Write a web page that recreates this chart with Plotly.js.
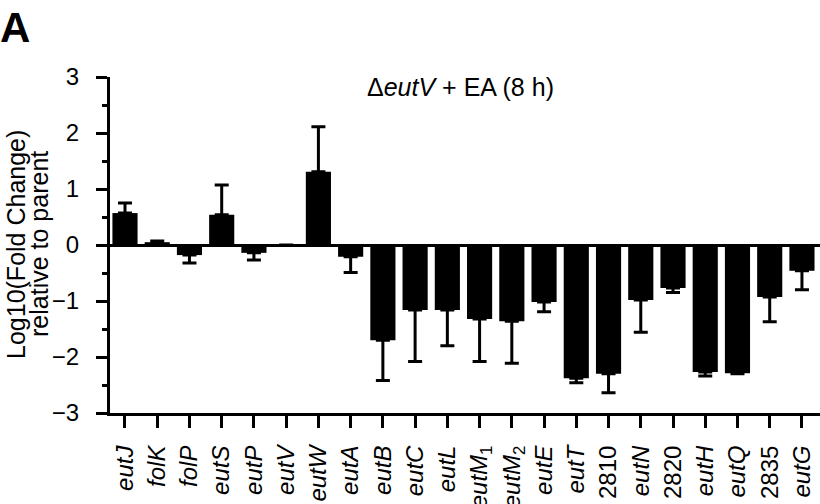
<!DOCTYPE html>
<html>
<head>
<meta charset="utf-8">
<script src="https://cdn.plot.ly/plotly-3.0.1.min.js"></script>
<style>html,body{margin:0;padding:0;background:#fff;}#chart{width:820px;height:504px;}</style>
</head>
<body>
<div id="chart"></div>
<script>
const genes = ["<i>eutJ</i>","<i>folK</i>","<i>folP</i>","<i>eutS</i>","<i>eutP</i>","<i>eutV</i>","<i>eutW</i>","<i>eutA</i>","<i>eutB</i>","<i>eutC</i>","<i>eutL</i>","<i>eutM</i><sub>1</sub>","<i>eutM</i><sub>2</sub>","<i>eutE</i>","<i>eutT</i>","2810","<i>eutN</i>","2820","<i>eutH</i>","<i>eutQ</i>","2835","<i>eutG</i>"];
const log10Fold = [0.57,0.05,-0.18,0.54,-0.14,0,1.31,-0.21,-1.70,-1.16,-1.16,-1.32,-1.36,-1.02,-2.38,-2.30,-0.98,-0.77,-2.27,-2.29,-0.93,-0.46];
const errUp =   [0.18,0.02,0,0.53,0,0,0.80,0,0,0,0,0,0,0,0,0,0,0,0,0,0,0];
const errDown = [0,0,0.14,0,0.13,0,0,0.28,0.72,0.92,0.64,0.76,0.75,0.17,0.08,0.34,0.58,0.08,0.07,0.01,0.44,0.34];
const yTicks = [-3,-2,-1,0,1,2,3];
const yTitleLines = ["Log10(Fold Change)", "relative to parent"];

const idx = genes.map((g,i)=>i);
const font = "Liberation Sans, Arial, sans-serif";

Plotly.newPlot("chart", [{
  type: "bar",
  x: idx,
  y: log10Fold,
  width: 0.78,
  marker: {color: "#000", line: {width: 0}},
  error_y: {type: "data", symmetric: false, array: errUp, arrayminus: errDown, color: "#000", thickness: 3, width: 7},
  hoverinfo: "none"
}], {
  width: 820, height: 504,
  margin: {l: 110, r: 0, t: 77, b: 91},
  paper_bgcolor: "#fff", plot_bgcolor: "#fff",
  showlegend: false,
  font: {family: font, color: "#000"},
  xaxis: {
    range: [-0.465, 21.56],
    tickmode: "array", tickvals: idx, ticktext: genes,
    tickangle: -90,
    automargin: false,
    tickfont: {size: 24, family: font, color: "#000"},
    ticklabelstandoff: 8,
    showline: true, linecolor: "#000", linewidth: 3,
    ticks: "outside", ticklen: 12, tickwidth: 3, tickcolor: "#000",
    showgrid: false, zeroline: false, fixedrange: true
  },
  yaxis: {
    range: [-3, 3],
    tickmode: "array", tickvals: yTicks,
    tickfont: {size: 24, family: font, color: "#000"},
    ticklabelstandoff: 12,
    automargin: false,
    showline: true, linecolor: "#000", linewidth: 3,
    ticks: "outside", ticklen: 11, tickwidth: 3, tickcolor: "#000",
    minor: {dtick: 0.5, tick0: 0.5, ticks: "outside", ticklen: 5, tickwidth: 3, tickcolor: "#000", showgrid: false},
    showgrid: false,
    zeroline: true, zerolinecolor: "#000", zerolinewidth: 3,
    fixedrange: true
  },
  annotations: [
    {text: "<b>A</b>", xref: "paper", yref: "paper", x: -0.158, y: 1.146, xanchor: "left", yanchor: "middle", showarrow: false, font: {size: 42, family: font, color: "#000"}},
    {text: "Δ<i>eutV</i> + EA (8 h)", xref: "paper", yref: "paper", x: 0.493, y: 0.970, xanchor: "center", yanchor: "middle", showarrow: false, font: {size: 25, family: font, color: "#000"}},
    {text: yTitleLines[0], xref: "paper", yref: "paper", x: -0.1324, y: 0.503, xanchor: "center", yanchor: "middle", textangle: -90, showarrow: false, font: {size: 25, family: font, color: "#000"}},
    {text: yTitleLines[1], xref: "paper", yref: "paper", x: -0.1, y: 0.503, xanchor: "center", yanchor: "middle", textangle: -90, showarrow: false, font: {size: 25, family: font, color: "#000"}}
  ]
}, {staticPlot: true});
</script>
</body>
</html>
